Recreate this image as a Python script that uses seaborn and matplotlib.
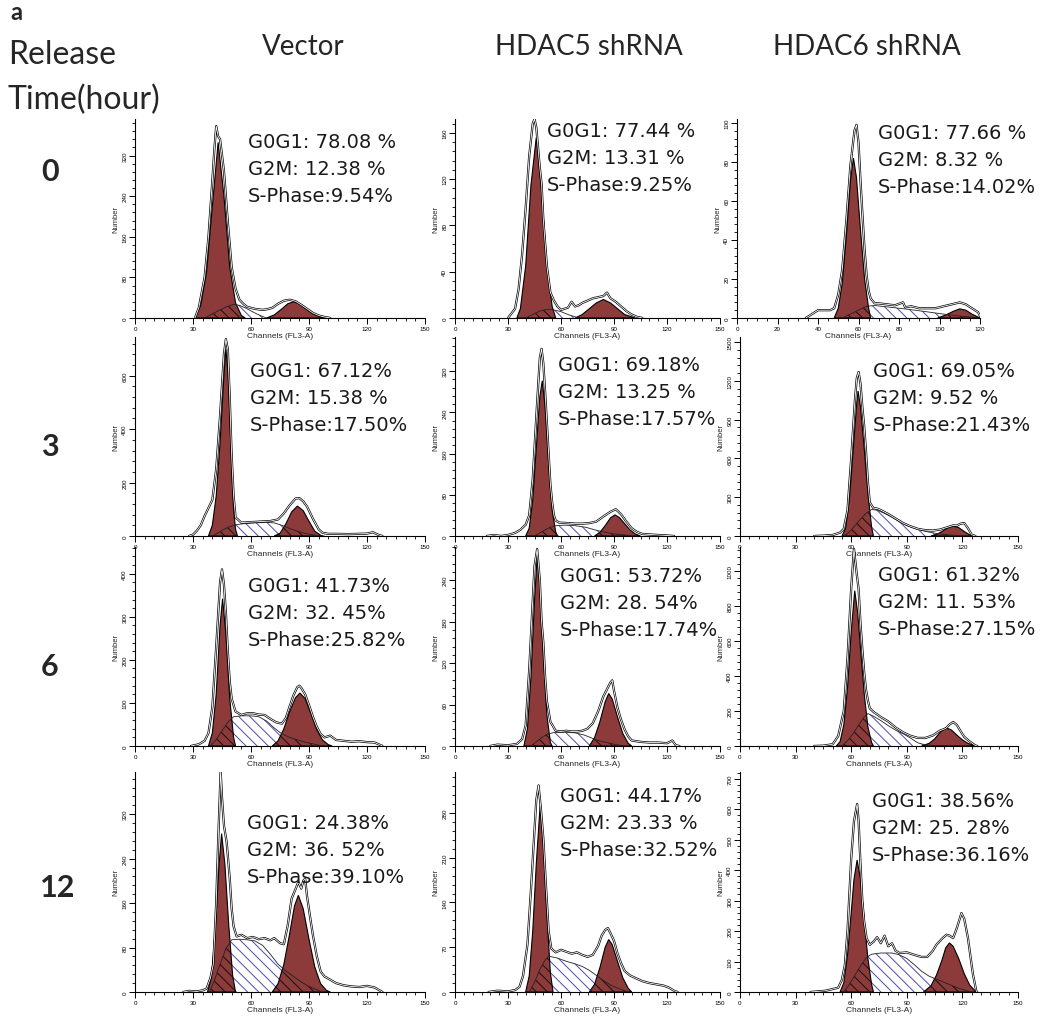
import matplotlib
matplotlib.use("Agg")
import matplotlib.pyplot as plt
import seaborn as sns
from matplotlib.ticker import MultipleLocator

sns.set_theme(style="ticks")
plt.rcParams["font.family"] = ["Liberation Sans", "DejaVu Sans"]
plt.rcParams["hatch.linewidth"] = 0.7

W, H = 1047, 1020
RED = "#8c3a3a"
BLUE = "#4a4ab4"

COLUMNS = ["Vector", "HDAC5 shRNA", "HDAC6 shRNA"]
RELEASE_HOURS = ["0", "3", "6", "12"]

# --- percentages printed in each panel (row = release hour, col = construct) ---
g0g1 = [["78.08 %", "77.44 %", "77.66 %"],
        ["67.12%", "69.18%", "69.05%"],
        ["41.73%", "53.72%", "61.32%"],
        ["24.38%", "44.17%", "38.56%"]]
g2m = [["12.38 %", "13.31 %", "8.32 %"],
       ["15.38 %", "13.25 %", "9.52 %"],
       ["32. 45%", "28. 54%", "11. 53%"],
       ["36. 52%", "23.33 %", "25. 28%"]]
sphase = [["9.54%", "9.25%", "14.02%"],
          ["17.50%", "17.57%", "21.43%"],
          ["25.82%", "17.74%", "27.15%"],
          ["39.10%", "32.52%", "36.16%"]]

# --- histogram traces: (channel, count) ---
# Vector 0 h
vec_0_obs = [(31,0),(33,20),(36,80),(38,160),(40,270),(41,330),(42,378),(43,358),(44,352),(46,290),(48,190),(50,100),(52,58),(54,36),(56,28),(58,22),(62,18),(66,16),(68,17),(71,20),(74,28),(77,34),(80,36),(83,33),(86,26),(89,18),(92,10),(95,5),(98,2),(101,0)]
vec_0_g1 = [(31,0),(34,25),(37,90),(40,220),(43,346),(46,240),(49,100),(52,30),(55,5),(57,0)]
vec_0_g2 = [(68,0),(72,6),(76,18),(79,28),(82,32),(85,28),(88,19),(92,8),(96,2),(99,0)]
vec_0_s = [(36,0),(40,8),(44,16),(48,23),(51,27),(54,25),(57,20),(60,14),(63,8),(66,3),(68,0)]
# HDAC5 0 h
h5_0_obs = [(30,0),(32,4),(34,8),(36,25),(38,55),(40,95),(42,140),(44,168),(45,172),(46,165),(48,130),(49,116),(50,85),(52,45),(54,22),(56,15),(58,10),(60,7),(62,8),(64,9),(66,14),(68,10),(70,11),(72,13),(75,15),(78,17),(81,18),(84,19),(86,22),(88,17),(91,14),(94,10),(97,6),(100,3),(103,1),(106,0)]
h5_0_g1 = [(35,0),(37,8),(40,45),(43,115),(46,156),(49,110),(52,45),(55,10),(57,0)]
h5_0_g2 = [(68,0),(72,3),(76,8),(80,13),(84,16),(88,13),(92,8),(96,3),(100,1),(102,0)]
h5_0_s = [(40,0),(44,3),(48,6),(52,7.5),(56,7),(60,5.5),(64,3),(68,1),(70,0)]
# HDAC6 0 h
h6_0_obs = [(34,0),(37,2),(40,4),(43,4),(46,4),(48,5),(50,12),(52,25),(54,50),(56,78),(58,96),(59,99),(60,90),(61,70),(62,52),(63,35),(64,22),(65,14),(66,10),(68,7.5),(70,7.5),(74,7),(78,6.5),(82,8),(83,5.5),(86,6),(90,5),(94,5),(98,5),(102,6),(106,7),(110,8),(113,7),(116,5),(119,3),(120,1)]
h6_0_g1 = [(48,0),(50,5),(52,18),(54,42),(56,70),(57.5,82),(59,72),(61,45),(63,20),(65,5),(66,0)]
h6_0_g2 = [(99,0),(103,1.5),(107,3.5),(110,4.7),(113,4),(116,2),(119,0.5),(120,0)]
h6_0_s = [(52,0),(56,2),(60,4),(64,6),(68,6.4),(75,5.6),(85,4.4),(95,3),(102,2),(110,1),(118,0.3),(120,0)]
# Vector 3 h
vec_3_obs = [(28,0),(30,5),(32,20),(34,40),(36,75),(38,105),(40,135),(42,250),(44,450),(46,680),(47,737),(48,700),(49,520),(50,300),(51,150),(52,70),(55,50),(60,52),(65,54),(70,56),(74,62),(77,85),(80,115),(83,140),(85,142),(87,130),(89,110),(92,65),(95,25),(97,12),(100,8),(105,8),(110,7),(115,8),(120,9),(123,14),(126,4),(128,0)]
vec_3_g1 = [(38,0),(40,40),(42,150),(44,350),(46,600),(47,700),(48,620),(49,450),(50,250),(51,100),(52,25),(53,0)]
vec_3_g2 = [(72,0),(75,10),(78,45),(81,90),(84,112),(87,95),(90,55),(93,18),(96,3),(97,0)]
vec_3_s = [(40,0),(43,12),(46,25),(49,35),(52,42),(56,46),(62,49),(68,51),(72,49),(76,40),(80,28),(84,18),(88,10),(92,4),(96,1),(98,0)]
# HDAC5 3 h
h5_3_obs = [(18,0),(22,2),(26,0),(30,2),(34,6),(37,12),(40,22),(42,40),(44,110),(46,230),(48,345),(49,363),(50,335),(51,280),(52,220),(53,160),(54,100),(55,65),(56,40),(57,30),(59,26),(64,25),(68,24),(72,24),(76,25),(80,28),(84,38),(88,47),(91,52),(94,42),(97,28),(100,15),(103,8),(106,4),(110,3),(115,2),(120,1),(124,0)]
h5_3_g1 = [(40,0),(42,15),(44,70),(46,170),(48,270),(49.4,301),(51,250),(53,140),(55,50),(57,8),(58,0)]
h5_3_g2 = [(79,0),(82,7),(85,20),(88,35),(90.5,41),(93,36),(96,24),(99,12),(102,4),(105,0)]
h5_3_s = [(45,0),(48,6),(51,12),(54,17),(57,20),(62,21),(68,20),(74,17),(79,12),(84,8),(90,4),(96,2),(100,0)]
# HDAC6 3 h
h6_3_obs = [(40,0),(45,3),(50,8),(54,26),(56,55),(58,200),(60,600),(62,1050),(63,1220),(64,1270),(65,1180),(66,1000),(67,850),(68,650),(69,420),(70,260),(72,215),(74,212),(76,200),(80,170),(84,135),(88,100),(92,75),(96,55),(100,45),(104,42),(108,50),(112,68),(115,82),(117,80),(119,95),(121,100),(123,60),(125,10),(127,0)]
h6_3_g1 = [(55,0),(57,60),(59,280),(61,650),(63,1030),(63.7,1122),(65,1000),(67,680),(69,330),(71,70),(72,0)]
h6_3_g2 = [(103,0),(106,12),(109,35),(112,62),(115,78),(118,65),(121,35),(124,8),(126,0)]
h6_3_s = [(56,0),(59,30),(62,80),(65,130),(68,175),(71,205),(74,200),(78,175),(82,145),(86,110),(90,80),(95,55),(100,36),(105,22),(110,12),(116,5),(122,1),(126,0)]
# Vector 6 h
vec_6_obs = [(29,0),(33,4),(36,12),(38,30),(40,90),(42,230),(44,380),(45,410),(46,375),(47,310),(48,220),(49,150),(50,110),(52,80),(55,72),(58,76),(61,76),(64,73),(67,72),(70,63),(73,55),(76,52),(78,65),(80,92),(82,118),(84,137),(85,140),(86,135),(88,120),(90,95),(92,68),(94,45),(96,28),(98,20),(101,24),(104,14),(108,12),(112,10),(116,11),(120,9),(124,8),(127,2),(128,0)]
vec_6_g1 = [(38,0),(40,30),(42,120),(44,280),(45.3,342),(47,260),(49,110),(51,20),(52,0)]
vec_6_g2 = [(71,0),(74,12),(77,40),(80,80),(83,112),(85.3,123),(88,110),(91,75),(94,38),(97,14),(100,3),(102,0)]
vec_6_s = [(39,0),(42,15),(45,35),(48,55),(51,68),(55,70),(60,70),(64,68),(68,58),(72,42),(76,28),(80,20),(84,14),(88,9),(92,5),(96,1),(98,0)]
# HDAC5 6 h
h5_6_obs = [(20,0),(24,2),(30,1),(35,3),(38,10),(40,30),(42,110),(44,210),(45,260),(46.5,285),(48,240),(49,180),(50,150),(51,100),(52,65),(54,35),(57,22),(60,21),(63,22),(66,21),(69,21),(72,22),(75,25),(78,33),(81,50),(84,72),(86,82),(88,92),(89,95),(90,80),(92,55),(94,38),(96,24),(98,14),(100,8),(105,6),(110,5),(115,5),(120,4),(123,8),(125,1),(127,0)]
h5_6_g1 = [(39,0),(41,25),(43,100),(45,210),(46.6,278),(48,230),(50,130),(52,45),(54,5),(55,0)]
h5_6_g2 = [(76,0),(79,12),(82,35),(85,64),(87,76),(89,68),(92,42),(95,18),(98,4),(100,0)]
h5_6_s = [(43,0),(46,6),(49,12),(52,17),(56,19.5),(62,20),(68,19),(73,16),(77,12),(81,8),(86,5),(91,2),(96,0)]
# HDAC6 6 h
h6_6_obs = [(40,0),(45,2),(50,10),(53,57),(56,200),(58,500),(60,900),(61.5,1124),(63,980),(64,895),(65,700),(66,552),(67,420),(68,320),(69,260),(70,215),(72,195),(76,165),(80,140),(84,105),(88,78),(92,58),(96,46),(100,46),(104,60),(108,88),(111,100),(113,122),(115,137),(117,120),(119,85),(121,52),(124,25),(127,3),(128,0)]
h6_6_g1 = [(52,0),(54,25),(56,120),(58,330),(60,650),(61.9,886),(63.5,760),(65,560),(67,300),(69,110),(71,20),(72,0)]
h6_6_g2 = [(98,0),(102,15),(105,40),(108,78),(111,105),(114,92),(117,62),(120,35),(123,15),(126,4),(128,0)]
h6_6_s = [(55,0),(58,30),(61,70),(64,120),(67,165),(69,185),(72,170),(76,145),(80,116),(84,90),(88,70),(92,45),(96,18),(100,6),(106,2),(112,0)]
# Vector 12 h
vec_12_obs = [(25,0),(28,2),(32,1),(35,3),(37,6),(39,25),(40.5,50),(42,160),(43,270),(44.3,398),(45,350),(46,300),(47.4,270),(49,205),(50,150),(51,118),(52.6,100),(55,103),(58,97),(61,99),(64,95),(67,97),(70,93),(72,97),(75,88),(77,86),(79,120),(81,168),(83,185),(84.5,198),(86,186),(87,200),(88,204),(89,172),(91,125),(92,103),(94,65),(96,37),(98,28),(101,22),(104,16),(108,12),(112,10),(116,9),(120,11),(124,8),(127,2),(128,0)]
vec_12_g1 = [(37.5,0),(39.5,25),(41.5,110),(43.5,230),(44.8,285),(46.5,230),(48.5,120),(50.5,30),(52,0)]
vec_12_g2 = [(71,0),(74,15),(77,50),(80,105),(82.5,155),(84.5,174),(87,150),(90,95),(93,45),(96,15),(99,3),(101,0)]
vec_12_s = [(38.5,0),(41,20),(44,50),(47,78),(50,94),(54,95),(58,94),(62,92),(66,84),(70,68),(74,50),(78,38),(82,28),(86,18),(90,10),(94,4),(97,0)]
# HDAC5 12 h
h5_12_obs = [(19,0),(24,2),(30,1),(34,3),(36.5,8),(38.5,25),(41,74),(43,160),(44.5,230),(46,300),(47.3,323),(48.5,290),(50,240),(51.5,165),(53,95),(54.5,68),(57,62),(60,66),(63,63),(66,60),(69,62),(72,58),(75,55),(78,58),(81,72),(83,88),(85,97),(86.5,100),(88,92),(90,80),(92,60),(94,45),(96,33),(99,26),(102,22),(106,17),(110,14),(114,12),(118,10),(121,7),(124,2),(126,0)]
h5_12_g1 = [(40,0),(42,25),(44,95),(46,200),(48.2,292),(50,230),(52,120),(54,30),(55.5,0)]
h5_12_g2 = [(76,0),(79,12),(82,38),(85,70),(87,82),(89,74),(92,48),(95,22),(98,6),(100,0)]
h5_12_s = [(42,0),(45,15),(48,35),(51,50),(53,56),(58,53),(63,48),(68,44),(72,40),(76,34),(80,26),(84,18),(88,11),(92,6),(96,2),(99,0)]
# HDAC6 12 h
h6_12_obs = [(38,0),(42,2),(46,4),(49.5,9),(53,14),(55,40),(56.6,90),(58,200),(60,438),(61.5,560),(63.2,617),(64,560),(65,420),(66,300),(67,230),(68.3,177),(70,155),(72,165),(74,180),(76,160),(78,185),(80,150),(82,160),(84,135),(86,128),(90,130),(94,122),(98,115),(101,115),(104,135),(106,155),(109,175),(111.4,188),(113,185),(115,177),(117,210),(119.5,259),(121,240),(123,177),(124.5,110),(125.7,58),(127.5,3),(128,0)]
h6_12_g1 = [(54,0),(56,30),(58,120),(60,260),(61.5,370),(63.2,433),(65,370),(67,240),(69,110),(71,25),(72,0)]
h6_12_g2 = [(99,0),(103,20),(106,55),(109,105),(111,145),(113,161),(115,150),(118,110),(121,60),(124,22),(127,3),(128,0)]
h6_12_s = [(56,0),(59,25),(62,55),(65,85),(68,112),(71,124),(76,128),(82,128),(86,122),(90,110),(94,90),(98,68),(102,52),(106,42),(110,32),(114,22),(118,12),(122,5),(125,0)]

PANELS = [
    [(vec_0_obs, vec_0_g1, vec_0_g2, vec_0_s), (h5_0_obs, h5_0_g1, h5_0_g2, h5_0_s), (h6_0_obs, h6_0_g1, h6_0_g2, h6_0_s)],
    [(vec_3_obs, vec_3_g1, vec_3_g2, vec_3_s), (h5_3_obs, h5_3_g1, h5_3_g2, h5_3_s), (h6_3_obs, h6_3_g1, h6_3_g2, h6_3_s)],
    [(vec_6_obs, vec_6_g1, vec_6_g2, vec_6_s), (h5_6_obs, h5_6_g1, h5_6_g2, h5_6_s), (h6_6_obs, h6_6_g1, h6_6_g2, h6_6_s)],
    [(vec_12_obs, vec_12_g1, vec_12_g2, vec_12_s), (h5_12_obs, h5_12_g1, h5_12_g2, h5_12_s), (h6_12_obs, h6_12_g1, h6_12_g2, h6_12_s)],
]

# y axis scale of each panel (top of axis, major tick step)
Y_MAX = [[392, 172, 102], [745, 386, 1540], [462, 288, 1135], [396, 344, 722]]
Y_STEP = [[80, 40, 20], [200, 80, 300], [100, 60, 200], [80, 70, 100]]

# layout in pixels
ROW_PX = [(120, 319), (338, 537), (548, 747), (773, 993)]
COL_PX = [(135, 425), (455, 720), (740, 1018)]
TEXT_PX = [[(248, 148), (547, 137), (878, 139)],
           [(250, 377), (558, 371), (873, 377)],
           [(248, 592), (560, 582), (878, 581)],
           [(247, 829), (560, 802), (872, 807)]]

HATCH = "\\\\\\"


def xy(points):
    return [p[0] for p in points], [p[1] for p in points]


def draw_panel(ax, obs, g1, g2, s, xmax, ymax, ystep):
    sx, sy = xy(s)
    # S phase: blue hatched
    ax.fill_between(sx, 0, sy, facecolor="white", edgecolor=BLUE, hatch=HATCH,
                    linewidth=0, zorder=2)
    for peak in (g1, g2):
        px, py = xy(peak)
        poly = ax.fill(px, py, facecolor=RED, edgecolor="black", linewidth=0.8, zorder=3)[0]
        # S phase lying under the red peaks: dark hatch
        dark = ax.fill_between(sx, 0, sy, facecolor="none", edgecolor="#111111",
                               hatch=HATCH, linewidth=0, zorder=3.5)
        dark.set_clip_path(poly)
    ax.plot(sx, sy, color="#222222", lw=0.6, zorder=3.6)

    ox, oy = xy(obs)
    sns.lineplot(x=ox, y=oy, ax=ax, color="black", linewidth=1.6, sort=False,
                 estimator=None, legend=False, zorder=4)
    sns.lineplot(x=ox, y=oy, ax=ax, color="white", linewidth=0.6, sort=False,
                 estimator=None, legend=False, zorder=4.1)

    ax.set_xlim(0, xmax)
    ax.set_ylim(0, ymax)
    ax.xaxis.set_major_locator(MultipleLocator(20 if xmax == 120 else 30))
    ax.xaxis.set_minor_locator(MultipleLocator(5))
    ax.yaxis.set_major_locator(MultipleLocator(ystep))
    ax.yaxis.set_minor_locator(MultipleLocator(ystep / 5))
    ax.tick_params(which="major", direction="out", length=4, width=0.7,
                   labelsize=4.5, pad=1.5, left=True, bottom=True, colors="black")
    ax.tick_params(which="minor", direction="out", length=2.5, width=0.6,
                   left=True, bottom=True, colors="black")
    for lab in ax.get_yticklabels():
        lab.set_rotation(90)
        lab.set_va("center")
    for side in ("top", "right"):
        ax.spines[side].set_visible(False)
    for side in ("left", "bottom"):
        ax.spines[side].set_color("black")
        ax.spines[side].set_linewidth(0.8)
    ax.set_xlabel("Channels (FL3-A)", fontsize=6, labelpad=1)
    ax.set_ylabel("Number", fontsize=5.5, labelpad=2)
    ax.patch.set_alpha(0)


fig = plt.figure(figsize=(W / 100, H / 100), dpi=100)

for r in range(4):
    top, bot = ROW_PX[r]
    for c in range(3):
        left, right = COL_PX[c]
        xmax = 150
        if r == 0 and c == 2:
            left, right, xmax = 737, 980, 120
        ax = fig.add_axes([left / W, 1 - bot / H, (right - left) / W, (bot - top) / H])
        obs, g1, g2, s = PANELS[r][c]
        draw_panel(ax, obs, g1, g2, s, xmax, Y_MAX[r][c], Y_STEP[r][c])

        tx, ty = TEXT_PX[r][c]
        lines = [f"G0G1: {g0g1[r][c]}", f"G2M: {g2m[r][c]}", f"S-Phase:{sphase[r][c]}"]
        for i, line in enumerate(lines):
            fig.text(tx / W, 1 - (ty + 27 * i) / H, line, fontsize=14,
                     family="DejaVu Sans", va="baseline", ha="left", color="#1a1a1a")

# --- headers ---
HEAD_X = [303, 589, 867]
for name, hx in zip(COLUMNS, HEAD_X):
    fig.text(hx / W, 1 - 47 / H, name, fontsize=20, family="Lato", ha="center", va="center")

fig.text(10 / W, 1 - 12 / H, "a", fontsize=17, family="Lato", weight="bold", ha="left", va="center")
fig.text(8 / W, 1 - 55 / H, "Release", fontsize=23, family="Lato", ha="left", va="center")
fig.text(8 / W, 1 - 100 / H, "Time(hour)", fontsize=23, family="Lato", ha="left", va="center")

ROW_LABEL_PX = [(50, 172), (50, 447), (50, 667), (58, 888)]
for hour, (lx, ly) in zip(RELEASE_HOURS, ROW_LABEL_PX):
    fig.text(lx / W, 1 - ly / H, hour, fontsize=22, family="Lato", weight="bold",
             ha="center", va="center")

fig.savefig("out.png", dpi=100)
